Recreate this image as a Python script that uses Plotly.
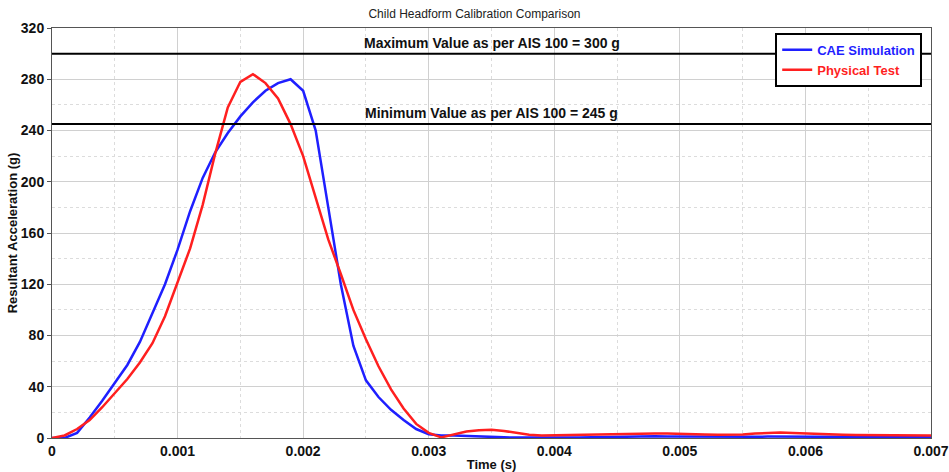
import plotly.graph_objects as go

time_s = [0.0000, 0.0001, 0.0002, 0.0003, 0.0004, 0.0005, 0.0006, 0.0007, 0.0008, 0.0009,
          0.0010, 0.0011, 0.0012, 0.0013, 0.0014, 0.0015, 0.0016, 0.0017, 0.0018, 0.0019,
          0.0020, 0.0021, 0.0022, 0.0023, 0.0024, 0.0025, 0.0026, 0.0027, 0.0028, 0.0029,
          0.0030, 0.0031, 0.0032, 0.0033, 0.0034, 0.0035, 0.0036, 0.0037, 0.0038, 0.0039,
          0.0040, 0.0041, 0.0042, 0.0043, 0.0044, 0.0045, 0.0046, 0.0047, 0.0048, 0.0049,
          0.0050, 0.0051, 0.0052, 0.0053, 0.0054, 0.0055, 0.0056, 0.0057, 0.0058, 0.0059,
          0.0060, 0.0061, 0.0062, 0.0063, 0.0064, 0.0065, 0.0066, 0.0067, 0.0068, 0.0069,
          0.0070]

cae_simulation = [0, 0, 4, 16, 29, 43, 57, 75, 97, 120,
                  147, 177, 203, 223, 238, 251, 262, 271, 277, 280,
                  271, 240, 180, 120, 72, 45, 32, 22, 14, 7,
                  3, 2, 2, 1.5, 1, 1, 0.5, 0.3, 0.2, 0.2,
                  0.3, 0.3, 0.4, 0.6, 0.8, 1.0, 1.2, 1.3, 1.3, 1.2,
                  1.1, 1.0, 0.9, 0.8, 0.8, 0.9, 1.0, 1.1, 1.2, 1.2,
                  1.1, 1.0, 0.9, 0.8, 0.7, 0.7, 0.6, 0.6, 0.6, 0.5,
                  0.5]

physical_test = [0, 2, 7, 14, 24, 35, 46, 59, 74, 95,
                 121, 148, 182, 222, 258, 278, 284, 277, 265, 245,
                 220, 187, 155, 128, 100, 77, 56, 38, 23, 11,
                 4, 0.5, 3, 5, 6, 6.5, 5.5, 4, 2.5, 2,
                 2.2, 2.5, 2.5, 2.5, 2.8, 3.2, 3.5, 3.5, 3.5, 3.5,
                 3.4, 3.0, 2.7, 2.5, 2.5, 2.8, 3.5, 4.0, 4.3, 4.0,
                 3.5, 3.2, 2.8, 2.5, 2.3, 2.2, 2.1, 2.0, 2.0, 2.0,
                 2.0]

limit_max = 300
limit_min = 245
limit_label_x = 0.0035
x_range = [0, 0.007]
y_range = [0, 320]

FONT = "Liberation Sans, Arial, sans-serif"
BLUE = "#1f1fff"
RED = "#ff1f1f"

fig = go.Figure()
fig.add_trace(go.Scatter(
    x=time_s, y=cae_simulation, mode="lines",
    name=f"<span style='color:{BLUE}'><b>CAE Simulation</b></span>",
    line=dict(color=BLUE, width=2.5)))
fig.add_trace(go.Scatter(
    x=time_s, y=physical_test, mode="lines",
    name=f"<span style='color:{RED}'><b>Physical Test</b></span>",
    line=dict(color=RED, width=2.5)))

for val in (limit_max, limit_min):
    fig.add_shape(type="line", xref="x domain", yref="y", x0=0, x1=1, y0=val, y1=val,
                  line=dict(color="black", width=2), layer="above")

fig.add_annotation(x=limit_label_x, y=limit_max, xref="x", yref="y", yanchor="bottom", yshift=1,
                   text=f"<b>Maximum Value as per AIS 100 = {limit_max} g</b>", showarrow=False,
                   font=dict(family=FONT, size=14, color="#111"))
fig.add_annotation(x=limit_label_x, y=limit_min, xref="x", yref="y", yanchor="bottom", yshift=1,
                   text=f"<b>Minimum Value as per AIS 100 = {limit_min} g</b>", showarrow=False,
                   font=dict(family=FONT, size=14, color="#111"))

axis_common = dict(showline=True, linecolor="#555", linewidth=1, mirror=True,
                   showgrid=True, gridcolor="#d0d0d0", gridwidth=1, zeroline=False,
                   automargin=False, ticklabeloverflow="allow",
                   tickfont=dict(family=FONT, size=14, color="#111", weight="bold"))

fig.update_xaxes(range=x_range, dtick=0.001, tickformat=".3~f", ticks="",
                 minor=dict(dtick=0.0005, showgrid=True, griddash="dot", gridcolor="#dcdcdc"),
                 title=dict(text="<b>Time (s)</b>", standoff=2,
                            font=dict(family=FONT, size=13, color="#111")),
                 **axis_common)
fig.update_yaxes(range=y_range, dtick=40, ticks="outside", ticklen=4, tickcolor="#555",
                 minor=dict(dtick=20, showgrid=True, griddash="dot", gridcolor="#dcdcdc"),
                 title=dict(text="<b>Resultant Acceleration (g)</b>", standoff=0,
                            font=dict(family=FONT, size=13, color="#111")),
                 **axis_common)

fig.update_layout(
    width=949, height=472,
    margin=dict(l=52, r=18, t=28, b=34),
    paper_bgcolor="white", plot_bgcolor="white",
    title=dict(text="Child Headform Calibration Comparison", x=0.5, xanchor="center",
               y=0.97, yanchor="middle",
               font=dict(family=FONT, size=12, color="#222")),
    legend=dict(x=0.99, y=0.988, xanchor="right", yanchor="top",
                bgcolor="white", bordercolor="black", borderwidth=2,
                font=dict(family=FONT, size=13), itemwidth=30,
                tracegroupgap=0),
    showlegend=True,
)

fig.write_html("out.html", config={"displayModeBar": False},
               post_script="document.body.style.margin='0';document.body.style.overflow='hidden';")
